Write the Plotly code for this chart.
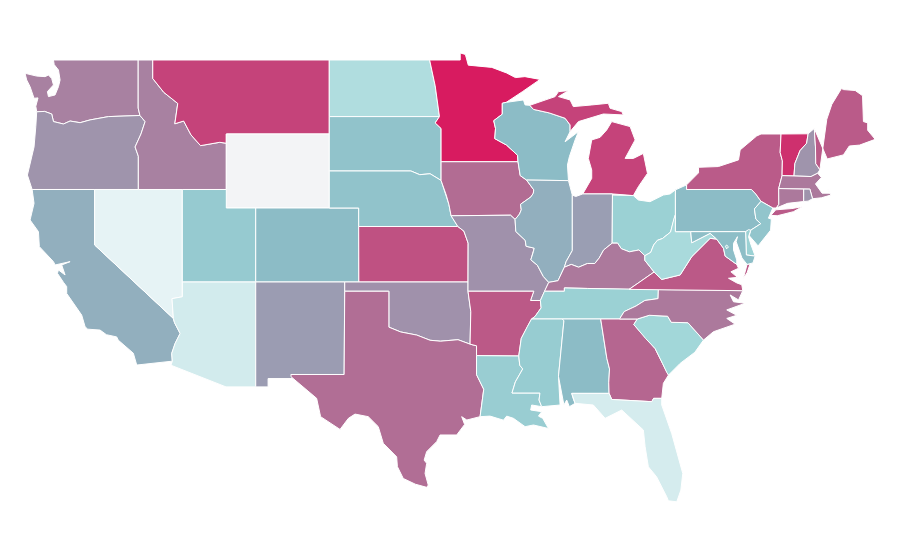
import plotly.graph_objects as go
from plotly.colors import sample_colorscale

# shared borders, lon/lat, so that neighbouring states meet exactly
COLUMBIA = [(-123.94, 46.2), (-123.4, 46.22), (-122.92, 46.08), (-122.8, 45.67), (-122.12, 45.54), (-121.67, 45.7), (-120.99, 45.61), (-120.31, 45.76), (-119.06, 45.94), (-116.92, 46.0)]
SNAKE = [(-116.92, 46.0), (-116.57, 45.67), (-116.85, 45.0), (-117.25, 44.3), (-117.03, 43.8), (-117.03, 42.0)]
BITTERROOT = [(-116.05, 48.0), (-115.3, 47.25), (-114.35, 46.65), (-114.55, 45.55), (-113.95, 45.7), (-113.45, 44.95), (-112.8, 44.37), (-111.5, 44.55), (-111.05, 44.5)]
COLORADO_RIVER = [(-114.65, 35.03), (-114.57, 34.8), (-114.19, 34.22), (-114.53, 33.68), (-114.76, 33.14), (-114.72, 32.72)]
RED_RIVER = [(-100.0, 34.56), (-99.2, 34.3), (-98.1, 34.13), (-97.2, 33.85), (-96.5, 33.8), (-95.3, 33.88), (-94.48, 33.64)]
SABINE = [(-94.04, 31.99), (-93.55, 31.2), (-93.7, 30.3), (-93.8, 29.72)]
MISSOURI_NE_IA = [(-96.45, 42.49), (-96.1, 41.7), (-95.92, 41.2), (-95.77, 40.58)]
MISSOURI_KS = [(-95.31, 40.0), (-94.9, 39.75), (-94.61, 39.1)]
MN_WI = [(-92.02, 46.71), (-92.29, 46.66), (-92.29, 46.07), (-92.87, 45.72), (-92.75, 45.3), (-92.8, 44.75), (-92.0, 44.4), (-91.25, 43.85), (-91.22, 43.5)]
IA_WI = [(-91.22, 43.5), (-91.07, 42.75), (-90.64, 42.51)]
IA_IL = [(-90.64, 42.51), (-90.15, 41.98), (-90.18, 41.8), (-90.34, 41.6), (-91.05, 41.2), (-91.0, 40.9), (-91.12, 40.67), (-91.42, 40.38)]
MO_IL = [(-91.42, 40.38), (-91.37, 39.73), (-90.73, 39.25), (-90.67, 38.93), (-90.12, 38.83), (-90.18, 38.63), (-90.35, 38.2), (-89.9, 37.9), (-89.5, 37.3), (-89.13, 36.98)]
MO_KY_TN = [(-89.13, 36.98), (-89.42, 36.5), (-89.7, 36.0)]
TN_AR = [(-89.7, 36.0), (-89.65, 35.6), (-90.07, 35.13), (-90.3, 35.0)]
MS_AR = [(-90.3, 35.0), (-90.58, 34.6), (-91.0, 33.95), (-91.17, 33.0)]
MS_LA = [(-91.17, 33.0), (-91.1, 32.5), (-90.9, 32.3), (-91.4, 31.6), (-91.63, 31.0), (-89.73, 31.0), (-89.79, 30.62), (-89.61, 30.26)]
OHIO_IL = [(-89.13, 36.98), (-88.5, 37.07), (-88.07, 37.8)]
OHIO_IN = [(-88.07, 37.8), (-87.6, 37.95), (-87.1, 37.8), (-86.5, 38.0), (-86.0, 38.0), (-85.7, 38.3), (-85.4, 38.73), (-84.82, 39.1)]
OHIO_OH = [(-84.82, 39.1), (-84.45, 39.1), (-84.2, 38.8), (-83.65, 38.63), (-83.0, 38.73), (-82.6, 38.42)]
OHIO_WV = [(-82.6, 38.42), (-82.2, 38.6), (-82.0, 39.0), (-81.75, 39.25), (-81.4, 39.35), (-80.85, 39.7), (-80.63, 40.4), (-80.52, 40.64)]
WABASH = [(-88.07, 37.8), (-87.95, 38.1), (-87.53, 38.7), (-87.53, 41.7)]
KY_TN = [(-83.67, 36.6), (-86.5, 36.65), (-88.07, 36.68), (-88.07, 36.5), (-89.42, 36.5)]
KY_WV_VA = [(-82.6, 38.42), (-82.6, 38.17), (-81.97, 37.54), (-83.67, 36.6)]
WV_VA = [(-81.97, 37.54), (-81.45, 37.14), (-80.2, 37.38), (-79.41, 38.37), (-78.16, 39.36), (-77.72, 39.32)]
TN_NC = [(-81.68, 36.59), (-81.7, 36.1), (-82.6, 36.0), (-83.2, 35.7), (-84.0, 35.4), (-84.32, 35.0)]
NC_SC = [(-83.11, 35.0), (-82.3, 35.2), (-81.05, 35.15), (-80.8, 34.82), (-79.67, 34.8), (-78.61, 33.86)]
SAVANNAH = [(-83.11, 35.0), (-83.35, 34.7), (-82.55, 33.95), (-81.9, 33.4), (-81.4, 32.6), (-81.1, 32.1), (-80.99, 31.97)]
AL_GA = [(-85.6, 35.0), (-85.18, 32.87), (-85.0, 32.3), (-85.05, 31.55), (-85.03, 30.98)]
GA_FL = [(-85.03, 30.98), (-84.85, 30.65), (-82.13, 30.53), (-82.0, 30.71), (-81.45, 30.71)]
AL_MS = [(-88.2, 35.0), (-88.1, 34.9), (-88.47, 31.9), (-88.36, 30.35)]
AL_FL = [(-87.57, 30.98), (-87.45, 30.65), (-87.34, 30.44)]
MD_VA = [(-76.35, 37.95), (-77.14, 38.4), (-77.25, 38.82), (-77.6, 39.18), (-77.72, 39.32)]
PA_NJ = [(-74.7, 41.36), (-75.15, 40.95), (-75.05, 40.4), (-74.72, 40.15), (-75.4, 39.8)]
VT_NH = [(-71.5, 45.01), (-71.6, 44.5), (-72.05, 44.1), (-72.4, 43.4), (-72.46, 42.73)]
NY_VT = [(-73.34, 45.0), (-73.4, 44.0), (-73.25, 43.55), (-73.27, 42.75)]
NH_ME = [(-71.08, 45.3), (-71.0, 44.3), (-70.98, 43.4), (-70.7, 43.07)]
UP_WI = [(-90.42, 46.55), (-90.17, 46.33), (-89.1, 46.14), (-88.02, 45.85), (-87.68, 45.49), (-87.68, 45.13)]

WA = [(-124.73, 48.28), (-124.62, 47.92), (-124.39, 47.56), (-124.12, 46.93), (-123.85, 46.95), (-124.0, 46.5)] + COLUMBIA + [(-117.04, 46.4), (-117.04, 49.0), (-122.8, 49.0), (-122.75, 48.75), (-122.46, 48.46), (-122.35, 47.92), (-122.46, 47.56), (-122.69, 47.11), (-123.14, 47.02), (-123.21, 47.29), (-122.8, 47.65), (-122.92, 48.0), (-123.14, 48.19), (-123.37, 48.1), (-123.94, 48.13)]
OR = COLUMBIA + SNAKE[1:] + [(-124.25, 42.0), (-124.57, 42.78), (-124.39, 43.4), (-124.12, 44.3), (-124.0, 45.4)]
CA = [(-124.25, 42.0), (-120.0, 42.0), (-120.0, 39.0)] + COLORADO_RIVER + [(-117.14, 32.51), (-117.37, 33.15), (-118.4, 33.86), (-118.5, 34.03), (-119.2, 34.15), (-119.63, 34.4), (-120.47, 34.45), (-120.65, 34.58), (-120.88, 35.21), (-121.9, 36.38), (-121.9, 36.75), (-122.1, 36.96), (-122.53, 37.47), (-122.46, 37.65), (-122.01, 37.38), (-122.24, 37.92), (-121.67, 38.1), (-122.69, 37.92), (-122.8, 38.1), (-123.76, 38.91), (-123.82, 39.72), (-124.39, 40.35), (-124.12, 41.25)]
NV = [(-120.0, 42.0), (-114.04, 42.0), (-114.04, 36.2), (-114.74, 36.1), (-114.65, 35.03), (-120.0, 39.0)]
ID = [(-117.04, 49.0), (-116.05, 49.0)] + BITTERROOT + [(-111.05, 42.0)] + SNAKE[::-1] + [(-117.04, 46.4)]
MT = [(-116.05, 49.0), (-104.05, 49.0), (-104.05, 45.0), (-111.05, 45.0)] + BITTERROOT[::-1]
WY = [(-111.05, 45.0), (-104.05, 45.0), (-104.05, 41.0), (-111.05, 41.0)]
UT = [(-114.04, 42.0), (-111.05, 42.0), (-111.05, 41.0), (-109.05, 41.0), (-109.05, 37.0), (-114.04, 37.0)]
AZ = [(-114.04, 37.0), (-109.05, 37.0), (-109.05, 31.33), (-111.07, 31.33), (-114.81, 32.5)] + COLORADO_RIVER[::-1] + [(-114.74, 36.1), (-114.04, 36.2)]
CO = [(-109.05, 41.0), (-102.05, 41.0), (-102.05, 37.0), (-109.05, 37.0)]
NM = [(-109.05, 37.0), (-103.0, 37.0), (-103.04, 32.0), (-106.65, 32.0), (-106.53, 31.78), (-108.21, 31.78), (-108.21, 31.33), (-109.05, 31.33)]
ND = [(-104.05, 49.0), (-97.23, 49.0), (-96.85, 47.6), (-96.56, 45.94), (-104.05, 45.94)]
SD = [(-104.05, 45.94), (-96.56, 45.94), (-96.85, 45.6), (-96.45, 45.3), (-96.45, 42.49), (-97.2, 42.85), (-97.9, 42.8), (-98.5, 43.0), (-104.05, 43.0)]
NE = [(-104.05, 43.0), (-98.5, 43.0), (-97.9, 42.8), (-97.2, 42.85)] + MISSOURI_NE_IA + [(-95.31, 40.0), (-102.05, 40.0), (-102.05, 41.0), (-104.05, 41.0)]
KS = [(-102.05, 40.0)] + MISSOURI_KS + [(-94.62, 37.0), (-102.04, 37.0)]
OK = [(-103.0, 37.0), (-94.62, 37.0), (-94.62, 36.5), (-94.43, 35.4)] + RED_RIVER[::-1] + [(-100.0, 36.5), (-103.0, 36.5)]
TX = [(-103.0, 36.5), (-100.0, 36.5)] + RED_RIVER + [(-94.04, 33.55), (-94.04, 33.02)] + SABINE + [(-94.7, 29.54), (-95.05, 29.72), (-94.85, 29.3), (-95.39, 28.73), (-96.52, 28.73), (-96.75, 28.37), (-97.43, 27.83), (-97.6, 27.37), (-97.43, 27.2), (-97.54, 26.65), (-97.32, 26.02), (-97.43, 25.9), (-98.2, 26.07), (-99.02, 26.38), (-99.42, 27.02), (-99.47, 27.55), (-100.38, 28.28), (-100.72, 29.18), (-101.4, 29.72), (-102.3, 29.86), (-102.75, 29.63), (-103.32, 29.03), (-104.64, 29.72), (-104.91, 30.71), (-106.65, 31.88), (-106.65, 32.0), (-103.04, 32.0)]
MN = [(-97.23, 49.0), (-95.15, 49.0), (-95.15, 49.38), (-94.8, 49.3), (-94.6, 48.72), (-93.0, 48.6), (-92.0, 48.3), (-91.4, 48.05), (-90.75, 48.1), (-89.72, 47.95), (-90.9, 47.3), (-91.5, 47.0)] + MN_WI + [(-96.45, 43.5), (-96.45, 45.3), (-96.85, 45.6), (-96.56, 45.94), (-96.85, 47.6)]
IA = [(-96.45, 43.5)] + IA_WI + IA_IL[1:] + [(-91.73, 40.61), (-95.77, 40.58)] + MISSOURI_NE_IA[::-1]
MO = [(-95.77, 40.58), (-91.73, 40.61)] + MO_IL + MO_KY_TN[1:] + [(-90.37, 36.0), (-90.15, 36.5), (-94.62, 36.5), (-94.62, 37.0)] + MISSOURI_KS[::-1]
AR = [(-94.62, 36.5), (-90.15, 36.5), (-90.37, 36.0)] + TN_AR + MS_AR[1:] + [(-94.04, 33.02), (-94.04, 33.55), (-94.48, 33.64), (-94.43, 35.4)]
LA = [(-94.04, 33.02)] + MS_LA + [(-90.29, 30.35), (-90.36, 30.08), (-89.61, 29.99), (-89.83, 29.75), (-89.54, 29.63), (-89.15, 29.08), (-90.17, 29.27), (-90.74, 29.18), (-91.53, 29.63), (-91.99, 29.75), (-92.21, 29.53), (-93.12, 29.75)] + SABINE[::-1]
MS = TN_AR[-1:] + AL_MS + MS_LA[::-1] + MS_AR[::-1][1:]
AL = AL_GA + AL_FL + [(-87.73, 30.26), (-87.91, 30.62), (-88.1, 30.35)] + AL_MS[::-1][1:]
FL = AL_FL[:1] + GA_FL + [(-81.45, 30.35), (-80.77, 28.8), (-80.02, 26.65), (-80.15, 25.75), (-80.43, 25.12), (-81.0, 25.17), (-81.11, 25.39), (-81.8, 26.47), (-82.36, 27.01), (-82.58, 28.1), (-82.7, 29.0), (-84.17, 30.08), (-85.3, 29.63), (-86.1, 30.35)] + AL_FL[::-1][:2]
GA = [(-85.6, 35.0)] + SAVANNAH + [(-81.34, 31.52)] + GA_FL[::-1] + AL_GA[::-1][1:]
SC = NC_SC + [(-79.2, 33.2), (-80.2, 32.6)] + SAVANNAH[::-1]
NC = [(-84.32, 35.0)] + NC_SC + [(-77.94, 34.31), (-76.46, 34.72), (-77.03, 35.03), (-76.35, 35.2), (-77.03, 35.49), (-75.78, 35.85), (-76.57, 35.93), (-76.8, 36.3), (-76.23, 36.03), (-75.94, 36.53)] + TN_NC
TN = [(-90.3, 35.0), (-88.2, 35.0), (-85.6, 35.0)] + TN_NC[::-1] + [(-83.67, 36.6)] + KY_TN[1:] + TN_AR[:3]
KY = OHIO_IL + OHIO_IN[1:] + OHIO_OH[1:] + KY_WV_VA[1:] + KY_TN[1:]
VA = [(-83.67, 36.6), (-81.68, 36.59), (-75.94, 36.53), (-76.01, 36.85), (-76.35, 36.95), (-76.91, 37.2), (-76.3, 37.25), (-76.75, 37.55), (-76.23, 37.74)] + MD_VA + WV_VA[::-1][1:]
VA_SHORE = [(-75.44, 37.98), (-75.65, 37.95), (-75.9, 37.2), (-75.65, 37.5)]
WV = OHIO_WV + [(-80.52, 39.72), (-79.48, 39.72), (-79.41, 39.12), (-78.16, 39.63)] + WV_VA[::-1] + KY_WV_VA[1:2]
MD = [(-79.48, 39.72), (-75.75, 39.72), (-75.7, 38.46), (-75.1, 38.4), (-75.25, 38.03), (-75.65, 37.95), (-76.0, 38.3), (-76.39, 39.18), (-76.3, 39.45), (-76.57, 39.09), (-76.57, 38.73), (-76.35, 38.19)] + MD_VA + [(-78.16, 39.63), (-79.41, 39.12)]
DE = [(-75.75, 39.72), (-75.55, 39.83), (-75.4, 39.8), (-75.55, 39.45), (-75.4, 39.05), (-75.1, 38.4), (-75.7, 38.46)]
DC = [(-77.12, 38.93), (-77.04, 39.0), (-76.91, 38.9), (-77.04, 38.79)]
PA = [(-80.52, 41.98), (-79.76, 42.25), (-79.76, 42.0), (-75.35, 42.0), (-75.05, 41.75)] + PA_NJ + [(-75.75, 39.72), (-80.52, 39.72)]
NJ = PA_NJ[:1] + [(-73.9, 41.0), (-74.2, 40.45), (-74.0, 40.4), (-74.05, 39.8), (-74.9, 38.95), (-75.5, 39.5)] + PA_NJ[::-1]
NY = [(-79.76, 42.25), (-78.95, 42.9), (-78.95, 43.2), (-77.6, 43.24), (-76.23, 43.6), (-76.12, 44.14), (-75.0, 44.89), (-74.7, 45.0)] + NY_VT + [(-73.5, 42.05), (-73.49, 41.2), (-73.66, 41.0), (-73.9, 41.0), (-74.7, 41.36), (-75.05, 41.75), (-75.35, 42.0), (-79.76, 42.0)]
NY_ISLAND = [(-74.03, 40.6), (-73.7, 40.9), (-72.6, 40.97), (-71.9, 41.07), (-72.5, 40.8), (-73.6, 40.58)]
CT = [(-73.49, 41.2), (-73.5, 42.05), (-71.8, 42.02), (-71.8, 41.35), (-72.9, 41.25), (-73.66, 41.0)]
RI = [(-71.8, 42.02), (-71.38, 42.02), (-71.2, 41.5), (-71.5, 41.37), (-71.8, 41.35)]
MA = [(-73.5, 42.05), (-73.27, 42.75), (-72.46, 42.73), (-71.3, 42.7), (-70.85, 42.88), (-70.6, 42.65), (-71.0, 42.3), (-70.55, 41.8), (-70.0, 41.8), (-70.2, 42.07), (-69.95, 41.7), (-70.6, 41.55), (-71.2, 41.5), (-71.38, 42.02), (-71.8, 42.02)]
VT = NY_VT + VT_NH[::-1]
NH = [(-71.08, 45.3)] + NH_ME[1:] + [(-70.85, 42.88), (-71.3, 42.7)] + VT_NH[::-1]
ME = NH_ME[::-1] + [(-70.2, 43.65), (-69.1, 43.87), (-68.7, 44.35), (-68.0, 44.4), (-66.94, 44.71), (-67.45, 45.2), (-67.45, 45.6), (-67.74, 45.67), (-67.8, 47.07), (-68.3, 47.35), (-69.1, 47.4), (-69.23, 47.46), (-69.89, 46.6), (-70.23, 45.8)]
OH = OHIO_OH + OHIO_WV[1:] + [(-80.52, 41.98), (-80.88, 41.76), (-81.34, 41.7), (-82.25, 41.34), (-83.04, 41.43), (-83.38, 41.67), (-84.8, 41.7)]
IN = WABASH + [(-87.3, 41.62), (-86.82, 41.76), (-84.8, 41.76)] + OHIO_IN[::-1]
IL = [(-87.79, 42.48), (-87.53, 41.7)] + WABASH[::-1][1:] + OHIO_IL[::-1][1:] + MO_IL[::-1][1:] + IA_IL[::-1][1:]
WI = MN_WI + IA_WI[1:] + [(-87.79, 42.48), (-87.86, 43.32), (-87.73, 43.77), (-87.34, 44.68), (-87.11, 45.13), (-88.02, 44.58)] + UP_WI[::-1] + [(-90.74, 46.57), (-90.85, 46.84)]
MI_LOWER = [(-86.82, 41.76), (-84.8, 41.76), (-83.38, 41.67), (-83.04, 42.15), (-82.42, 42.87), (-82.7, 43.95), (-83.38, 43.68), (-83.94, 43.68), (-83.26, 44.68), (-83.6, 45.4), (-84.85, 45.67), (-85.19, 45.22), (-85.64, 44.82), (-86.21, 44.68), (-86.44, 43.68), (-86.21, 43.05), (-86.21, 42.6)]
MI_UPPER = UP_WI + [(-87.11, 45.67), (-86.32, 45.85), (-85.42, 46.08), (-84.06, 46.03), (-84.17, 46.21), (-84.96, 46.39), (-85.08, 46.66), (-86.21, 46.57), (-87.46, 46.48), (-87.68, 46.84), (-88.47, 47.02), (-87.8, 47.34), (-88.47, 47.29), (-88.7, 47.02), (-90.06, 46.62)]
MI_ISLAND = [(-89.0, 47.88), (-88.65, 48.02), (-88.75, 48.02)]

# position of each state on the colour ramp
VALUES = {
    "WA": 62, "OR": 55, "CA": 45, "NV": 4, "ID": 62, "MT": 85, "WY": 0, "UT": 32, "AZ": 10, "CO": 40, "NM": 52,
    "ND": 20, "SD": 36, "NE": 36, "KS": 80, "OK": 56, "TX": 69, "MN": 100, "IA": 70, "MO": 56, "AR": 77, "LA": 30,
    "WI": 40, "IL": 45, "MI": 85, "IN": 51, "OH": 28, "KY": 65, "TN": 28, "MS": 31, "AL": 40, "GA": 72, "FL": 9,
    "SC": 24, "NC": 65, "VA": 77, "WV": 22, "PA": 40, "NY": 76, "VT": 92, "NH": 55, "ME": 76, "MA": 65, "CT": 65,
    "RI": 55, "NJ": 35, "DE": 28, "MD": 39, "DC": 28,
}
SHAPES = [
    ("WA", WA), ("OR", OR), ("CA", CA), ("NV", NV), ("ID", ID), ("MT", MT), ("WY", WY), ("UT", UT), ("AZ", AZ),
    ("CO", CO), ("NM", NM), ("ND", ND), ("SD", SD), ("NE", NE), ("KS", KS), ("OK", OK), ("TX", TX), ("MN", MN),
    ("IA", IA), ("MO", MO), ("AR", AR), ("LA", LA), ("WI", WI), ("IL", IL), ("MI", MI_LOWER), ("MI", MI_UPPER),
    ("MI", MI_ISLAND), ("IN", IN), ("OH", OH), ("KY", KY), ("TN", TN), ("MS", MS), ("AL", AL), ("GA", GA), ("FL", FL),
    ("SC", SC), ("NC", NC), ("VA", VA), ("VA", VA_SHORE), ("WV", WV), ("PA", PA), ("NY", NY), ("NY", NY_ISLAND),
    ("VT", VT), ("NH", NH), ("ME", ME), ("MA", MA), ("CT", CT), ("RI", RI), ("NJ", NJ), ("DE", DE), ("MD", MD), ("DC", DC),
]
RAMP = [[0.0, "#f3f4f6"], [0.04, "#e6f3f5"], [0.1, "#d2ebed"], [0.25, "#9fd6d8"], [0.4, "#8cbcc6"], [1.0, "#d81b60"]]

fig = go.Figure()
for name, ring in SHAPES:
    color = sample_colorscale(RAMP, VALUES[name] / 100)[0]
    fig.add_trace(go.Scatter(
        x=[p[0] for p in ring] + [ring[0][0]],
        y=[p[1] for p in ring] + [ring[0][1]],
        mode="lines",
        fill="toself",
        fillcolor=color,
        line=dict(color="white", width=1),
        name=name,
        hoverinfo="name",
    ))

# the page body adds 8px around the figure, so the ranges start 8px in
fig.update_xaxes(visible=False, range=[-125.89, -64.71])
fig.update_yaxes(visible=False, range=[21.54, 51.81])
fig.update_layout(
    width=900,
    height=560,
    margin=dict(l=0, r=0, t=0, b=0),
    showlegend=False,
    paper_bgcolor="white",
    plot_bgcolor="white",
)
fig.write_html("out.html")
